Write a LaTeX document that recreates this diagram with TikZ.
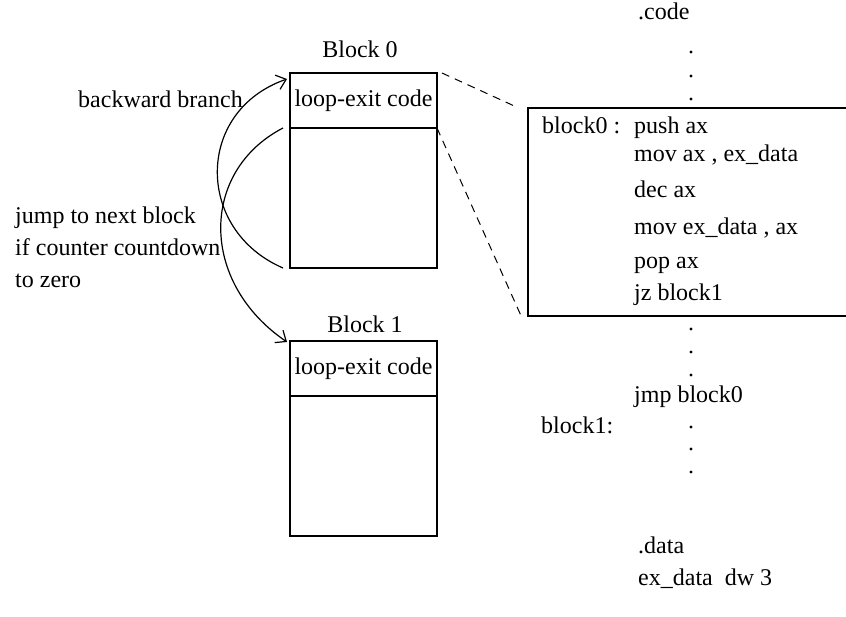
\documentclass[tikz,border=0pt]{standalone}
\usepackage{fontspec}
\setmainfont{Liberation Serif}
\usetikzlibrary{arrows.meta}

\tikzset{
  txt/.style = {inner sep=0pt, text height=16pt, text depth=5pt},
  blockbox/.style = {draw, line width=1.2pt, minimum width=147pt, inner sep=0pt,
                     outer sep=0pt, text height=16pt, text depth=5pt},
  dotmark/.style = {circle, fill, inner sep=0pt, minimum size=3.4pt},
  jumparrow/.style = {line width=1.2pt, -{Straight Barb[length=9pt,width=15pt]}},
  zoomline/.style = {line width=1pt, dash pattern=on 8pt off 6pt}
}

\begin{document}
\begin{tikzpicture}[x=1pt, y=-1pt, font=\fontsize{24}{28}\selectfont]
    \useasboundingbox (0,0) rectangle (846,616);
    % the two blocks
    \draw
        node[txt] (L0) at (360,52) {Block 0}
        node[blockbox, minimum height=55pt] (H0) at (363.5,100.5) {loop-exit code}
        node[blockbox, minimum height=140pt, anchor=north] (K0) at (H0.south) {}
        node[txt] (L1) at (365,327) {Block 1}
        node[blockbox, minimum height=55pt] (H1) at (363.5,368.5) {loop-exit code}
        node[blockbox, minimum height=140pt, anchor=north] (K1) at (H1.south) {};
    \path
        node[txt, anchor=west] (T0) at (78,102) {backward branch}
        node[txt, anchor=west] (T1) at (15,218) {jump to next block}
        node[txt, anchor=west] (T2) at (15,250) {if counter countdown}
        node[txt, anchor=west] (T3) at (15,282) {to zero};
    % branches between the blocks
    \draw[jumparrow] ([xshift=-7pt]K0.south west)
        .. controls +(-88,-38) and +(-92,32) .. ([xshift=-3pt,yshift=-6pt]H0.north west);
    \draw[jumparrow] ([xshift=-7pt]H0.south west)
        .. controls +(-83,43) and +(-88,-60) .. ([xshift=-3pt,yshift=-1pt]H1.north west);
    % assembly listing
    \draw
        node[draw, line width=1.2pt, minimum width=322pt, minimum height=208pt, inner sep=0pt] (C) at (689,212) {}
        node[txt, anchor=west] (S0) at (638,14) {.code}
        node[txt, anchor=west] (B0) at (542,128) {block0 :}
        node[txt, anchor=west] (I1) at (634,128) {push ax}
        node[txt, anchor=west] (I2) at (634,156) {mov ax , ex\_data}
        node[txt, anchor=west] (I3) at (634,192) {dec ax}
        node[txt, anchor=west] (I4) at (634,229) {mov ex\_data , ax}
        node[txt, anchor=west] (I5) at (634,263) {pop ax}
        node[txt, anchor=west] (I6) at (634,295) {jz block1}
        node[txt, anchor=west] (J0) at (634,397) {jmp block0}
        node[txt, anchor=west] (B1) at (541,428) {block1:}
        node[txt, anchor=west] (S1) at (638,548) {.data}
        node[txt, anchor=west] (D0) at (638,580) {ex\_data\ \ dw 3};
    \foreach \y [count=\i] in {52,76,99,329,352,375,427,449,472}
        \node[dotmark] (P\i) at (691,\y) {};
    % zoom lines from block 0 to the listing
    \draw[zoomline] ([xshift=5pt]H0.north east) -- ([xshift=-10pt]C.north west);
    \draw[zoomline] (H0.south east) -- ([xshift=-6pt]C.south west);
\end{tikzpicture}
\end{document}
